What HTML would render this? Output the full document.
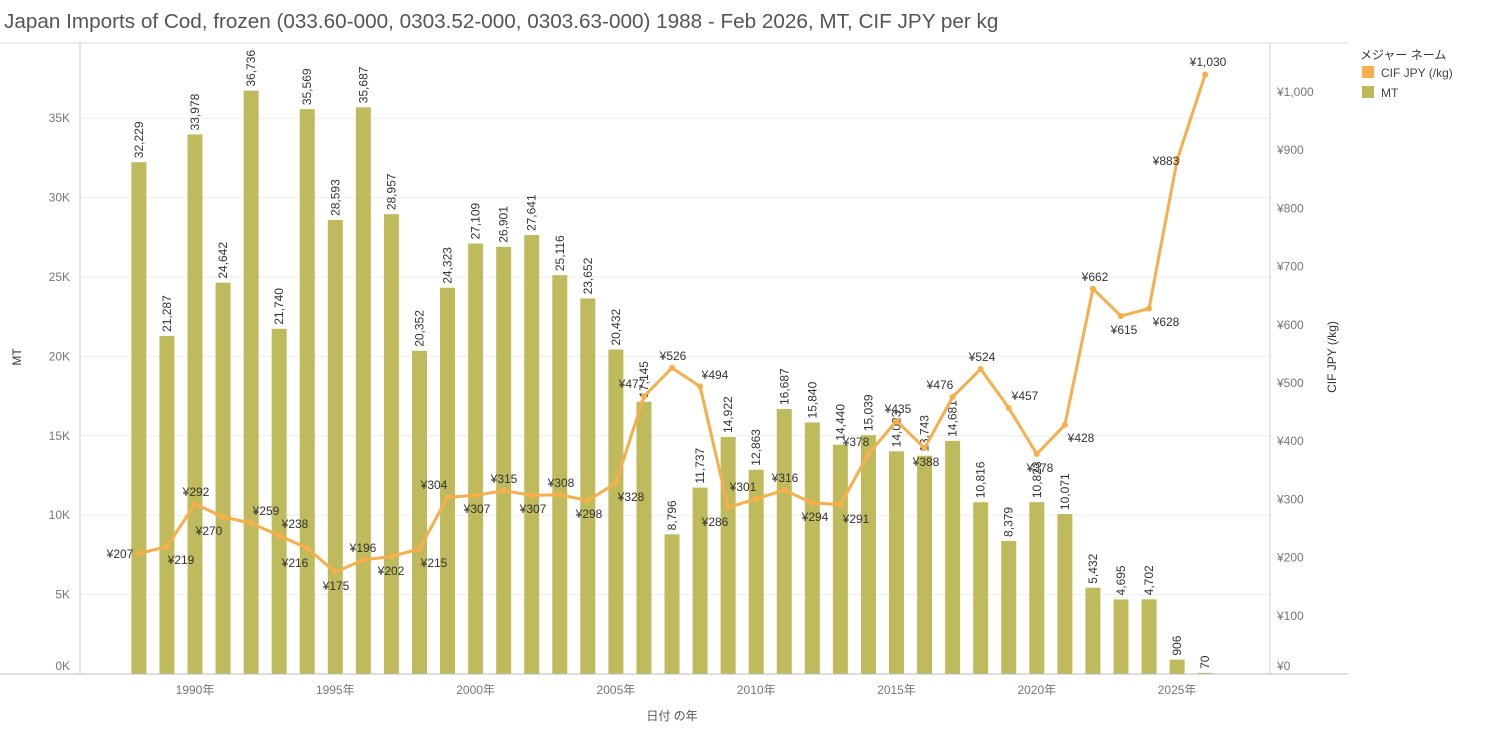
<!DOCTYPE html>
<html><head><meta charset="utf-8"><style>
body{margin:0;background:#fff;}
svg text{font-family:"Liberation Sans","Noto Sans CJK JP",sans-serif;}
</style></head><body>
<svg id="s" width="1499" height="732" xmlns="http://www.w3.org/2000/svg">
<text x="4" y="28" font-size="20.7" fill="#555">Japan Imports of Cod, frozen (033.60-000, 0303.52-000, 0303.63-000) 1988 - Feb 2026, MT, CIF JPY per kg</text>
<line x1="0" y1="43" x2="1348" y2="43" stroke="#ddd"/>
<g id="grid"></g>
<g id="bars"></g>
<g id="line"></g>
<line x1="80" y1="43" x2="80" y2="674" stroke="#ccc"/>
<line x1="1270" y1="43" x2="1270" y2="674" stroke="#ccc"/>
<line x1="0" y1="674" x2="1348" y2="674" stroke="#bbb"/>
<text transform="translate(21,357) rotate(-90)" text-anchor="middle" font-size="12" fill="#333">MT</text>
<text transform="translate(1336,357) rotate(-90)" text-anchor="middle" font-size="12" fill="#333">CIF JPY (/kg)</text>
<text x="672" y="720" text-anchor="middle" font-size="12" fill="#555">日付 の年</text>
<text x="1360" y="59" font-size="12" fill="#333">メジャー ネーム</text>
<rect x="1362" y="66" width="12" height="12" fill="#f7ae4b"/>
<text x="1381" y="77" font-size="12" fill="#444">CIF JPY (/kg)</text>
<rect x="1362" y="86" width="12" height="12" fill="#bfbb5c"/>
<text x="1381" y="97" font-size="12" fill="#444">MT</text>
</svg>
<script>
const ns="http://www.w3.org/2000/svg",s=document.getElementById('s');
function el(p,t,a,txt){const e=document.createElementNS(ns,t);for(const k in a)e.setAttribute(k,a[k]);if(txt!=null)e.textContent=txt;document.getElementById(p).appendChild(e);return e;}
const yM=v=>674-v*0.01588, yP=p=>674-p*0.582, xY=y=>195+(y-1990)*28.06;
for(let k=0;k<=35;k+=5){const y=yM(k*1000);if(k>0)el('grid','line',{x1:80,x2:1270,y1:y,y2:y,stroke:'#eee'});
el('grid','text',{x:70,y:k==0?670:y+4,'text-anchor':'end','font-size':12,fill:'#777'},k+'K');}
for(let p=0;p<=1000;p+=100){const y=yP(p);el('grid','text',{x:1277,y:p==0?670:y+4,'font-size':12,fill:'#777'},'¥'+(p==1000?'1,000':p));}
for(let y=1990;y<=2025;y+=5)el('grid','text',{x:xY(y),y:694,'text-anchor':'middle','font-size':12,fill:'#777'},y+'年');
const mt=[32229,21287,33978,24642,36736,21740,35569,28593,35687,28957,20352,24323,27109,26901,27641,25116,23652,20432,17145,8796,11737,14922,12863,16687,15840,14440,15039,14023,13743,14681,10816,8379,10823,10071,5432,4695,4702,906,70];
const pr=[207,219,292,270,259,238,216,175,196,202,215,304,307,315,307,308,298,328,477,526,494,286,301,316,294,291,378,435,388,476,524,457,378,428,662,615,628,883,1030];
const pl=[[120,554],[181,560],[196,492],[209,531],[266,511],[295,524],[295,563],[336,586],[363,548],[391,571],[434,563],[434,485],[477,509],[504,479],[533,509],[561,483],[589,514],[631,497],[632,384],[673,356],[715,375],[715,522],[743,487],[785,478],[815,517],[856,519],[856,442],[898,409],[926,462],[940,385],[982,357],[1025,396],[1040,468],[1081,438],[1095,277],[1124,330],[1166,322],[1166,161],[1208,62]];
let pts=[];
mt.forEach((v,i)=>{const x=xY(1988+i),y=yM(v);
el('bars','rect',{x:x-7.5,y:y,width:15,height:674-y,fill:'#bfbb5c'});
el('bars','text',{transform:`translate(${x+4},${y-4}) rotate(-90)`,'font-size':12,fill:'#333'},v.toLocaleString('en-US'));
pts.push(x+','+yP(pr[i]));});
el('line','polyline',{points:pts.join(' '),fill:'none',stroke:'#f7ae4b','stroke-width':3,'stroke-linejoin':'round'});
pr.forEach((p,i)=>{el('line','circle',{cx:xY(1988+i),cy:yP(p),r:3,fill:'#f7ae4b'});
el('line','text',{x:pl[i][0],y:pl[i][1]+4,'text-anchor':'middle','font-size':12,fill:'#333'},'¥'+p.toLocaleString('en-US'));});
</script>
</body></html>
